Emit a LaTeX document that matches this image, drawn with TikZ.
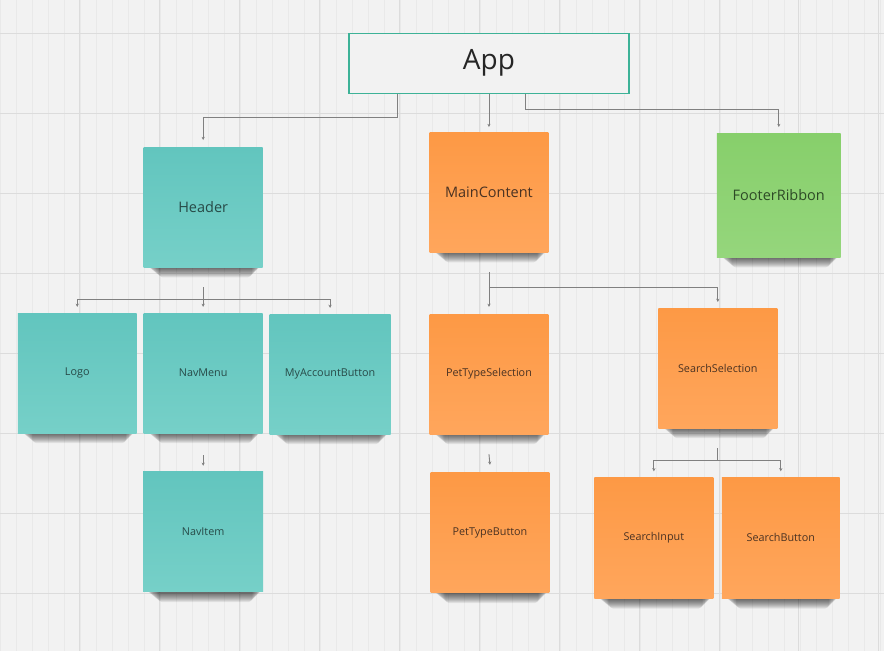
\documentclass[tikz,border=0pt]{standalone}
\usepackage{fontspec}
\setmainfont{Open Sans}
\usetikzlibrary{calc,arrows.meta,backgrounds}

\definecolor{canvas}{HTML}{F2F2F2}
\definecolor{gridminor}{HTML}{E9E9E9}
\definecolor{gridmajor}{HTML}{DCDCDC}
\definecolor{appborder}{HTML}{3DB297}
\definecolor{tealtop}{HTML}{62C5BE}
\definecolor{tealbot}{HTML}{76D0C8}
\definecolor{orangetop}{HTML}{FD9945}
\definecolor{orangebot}{HTML}{FFA65C}
\definecolor{greentop}{HTML}{87CF6B}
\definecolor{greenbot}{HTML}{95D67C}
\definecolor{linkgray}{HTML}{808080}
\definecolor{tealtext}{HTML}{274A47}
\definecolor{orangetext}{HTML}{4A3222}
\definecolor{greentext}{HTML}{2D4A26}

\pgfdeclarelayer{canvas}
\pgfsetlayers{canvas,background,main}

\tikzset{
  note/.style={minimum width=119, minimum height=120, inner sep=0pt},
  teal note/.style={note, top color=tealtop, bottom color=tealbot, text=tealtext},
  orange note/.style={note, top color=orangetop, bottom color=orangebot, text=orangetext},
  green note/.style={note, top color=greentop, bottom color=greenbot, text=greentext},
  bigtext/.style={font=\fontsize{14.5}{17}\selectfont},
  smalltext/.style={font=\fontsize{10.8}{13}\selectfont},
  conn/.style={draw=linkgray, line width=0.9pt,
    -{Stealth[length=3.2pt, width=3.2pt]}},
  plain conn/.style={draw=linkgray, line width=0.9pt},
  shadelayer/.style={fill=black, fill opacity=0.075, rounded corners=4pt}
}

% soft shadow under the bottom edge of a sticky note
\newcommand\noteshadow[1]{%
  \begin{pgfonlayer}{background}
    \foreach \k in {1,...,10}{
      \path[shadelayer]
        ($(#1.south west)+(3+1.2*\k,-8)$) rectangle ($(#1.south east)+(-1-1.0*\k,1.0*\k)$);
    }
  \end{pgfonlayer}}

\begin{document}
\begin{tikzpicture}[x=1pt, y=-1pt]
  % canvas and grid
  \begin{pgfonlayer}{canvas}
    \fill[canvas] (0,0) rectangle (884,651);
    \draw[gridminor, line width=0.4pt, step=16] (0,0) grid (884,651);
    \foreach \gx in {79,159,...,879} \draw[gridmajor, line width=0.6pt] (\gx,0) -- (\gx,651);
    \foreach \gy in {33,113,...,633} \draw[gridmajor, line width=0.6pt] (0,\gy) -- (884,\gy);
  \end{pgfonlayer}
  \useasboundingbox (0,0) rectangle (884,651);

  % root
  \node[draw=appborder, line width=1.3pt, fill=canvas, minimum width=280, minimum height=60,
        inner sep=0pt, font=\fontsize{28}{32}\selectfont, text=black!85] (app) at (489,63) {App};

  % first level
  \node[teal note, bigtext] (header) at (203,207) {Header};
  \node[orange note, bigtext] (main) at (489,192) {MainContent};
  \node[green note, bigtext, minimum width=124, minimum height=124] (footer) at (779,195) {FooterRibbon};

  % header children
  \node[teal note, smalltext] (logo) at (77,373) {Logo};
  \node[teal note, smalltext] (navmenu) at (203,373) {NavMenu};
  \node[teal note, smalltext, minimum width=121] (myacct) at (330,374) {MyAccountButton};
  \node[teal note, smalltext, minimum width=120] (navitem) at (203,532) {NavItem};

  % main content children
  \node[orange note, smalltext] (pettype) at (489,374) {PetTypeSelection};
  \node[orange note, smalltext] (searchsel) at (718,368) {SearchSelection};
  \node[orange note, smalltext] (pettypebtn) at (490,533) {PetTypeButton};
  \node[orange note, smalltext, minimum height=121] (searchin) at (654,538) {SearchInput};
  \node[orange note, smalltext, minimum width=118, minimum height=121] (searchbtn) at (781,538) {SearchButton};

  % shadows
  \foreach \n in {header,main,footer,logo,navmenu,myacct,navitem,pettype,searchsel,pettypebtn,searchin,searchbtn}
    {\noteshadow{\n}}

  % links from the root
  \draw[conn] ([xshift=49pt]app.south west) -- ++(0,24) -| ([yshift=7pt]header.north);
  \draw[conn] (app.south) -- ([yshift=5pt]main.north);
  \draw[conn] ([xshift=177pt]app.south west) -- ++(0,16) -| ([yshift=6pt]footer.north);

  % links from Header
  \coordinate (hsplit) at ($(header.south)+(0,20)$);
  \coordinate (hbar) at ($(header.south)+(0,32)$);
  \draw[conn] (hsplit) -- ([yshift=6pt]navmenu.north);
  \draw[conn] (hbar) -| ([yshift=6pt]logo.north);
  \draw[conn] (hbar) -| ([yshift=6pt]myacct.north);

  % link from NavMenu
  \draw[conn] ($(navmenu.south)+(0,22)$) -- ([yshift=6pt]navitem.north);

  % links from MainContent
  \coordinate (msplit) at ($(main.south)+(0,20)$);
  \coordinate (mbar) at ($(main.south)+(0,35)$);
  \draw[conn] (msplit) -- ([yshift=7pt]pettype.north);
  \draw[conn] (mbar) -| ([yshift=6pt]searchsel.north);

  % link from PetTypeSelection
  \draw[conn] ($(pettype.south)+(0,20)$) -- ([yshift=8pt]pettypebtn.north);

  % links from SearchSelection
  \coordinate (ssplit) at ($(searchsel.south)+(0,20)$);
  \coordinate (sbar) at ($(searchsel.south)+(0,32)$);
  \draw[plain conn] (ssplit) -- (sbar);
  \draw[conn] (sbar) -| ([yshift=6pt]searchin.north);
  \draw[conn] (sbar) -| ([yshift=6pt]searchbtn.north);
\end{tikzpicture}
\end{document}
